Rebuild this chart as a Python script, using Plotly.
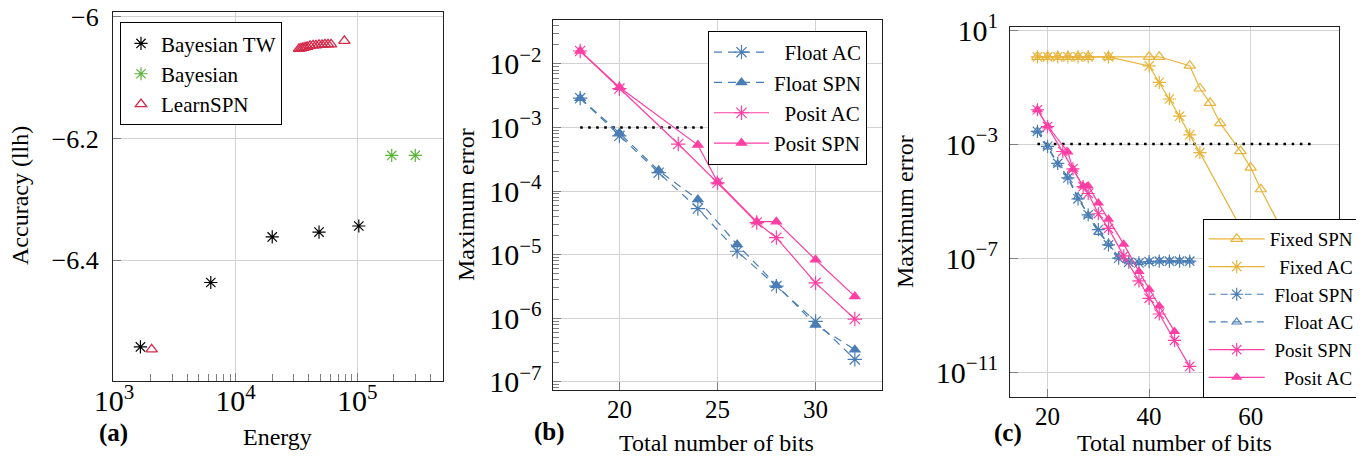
import plotly.graph_objects as go
from plotly.subplots import make_subplots

# ---------------- data ----------------
# Panel (a)
tw_energy = [1650, 6250, 20000, 48500, 103000]
tw_llh = [-6.543, -6.437, -6.362, -6.354, -6.344]
bay_energy = [192000, 300000]
bay_llh = [-6.228, -6.228]
lspn_energy = [2040, 33200, 34500, 35800, 37200, 38700, 40900, 43300, 45800,
               48500, 51400, 54300, 57500, 60900, 78400]
lspn_llh = [-6.547, -6.0527, -6.0519, -6.0510, -6.0502, -6.0494, -6.0477, -6.0469,
            -6.0469, -6.0461, -6.0461, -6.0453, -6.0453, -6.0453, -6.0395]

# Panel (b)
b_float_bits = [18, 20, 22, 24, 26, 28, 30, 32]
b_float_ac = [2.9e-3, 7.4e-4, 1.95e-4, 5.3e-5, 1.13e-5, 3.2e-6, 8.9e-7, 2.25e-7]
b_float_spn = [2.9e-3, 8.2e-4, 2.1e-4, 7.4e-5, 1.44e-5, 3.3e-6, 7.8e-7, 3.2e-7]
b_posit_ac_bits = [18, 20, 23, 25, 27, 28, 30, 32]
b_posit_ac = [1.6e-2, 4.1e-3, 5.5e-4, 1.35e-4, 3.2e-5, 1.85e-5, 3.6e-6, 9.7e-7]
b_posit_spn_bits = [18, 20, 24, 25, 27, 28, 30, 32]
b_posit_spn = [1.6e-2, 4.3e-3, 5.3e-4, 1.4e-4, 3.3e-5, 3.3e-5, 8.3e-6, 2.2e-6]
b_thr_bits = [18, 32]
b_thr = [1e-3, 1e-3]

# Panel (c)
c_fixed_spn_bits = [18, 20, 22, 24, 26, 28, 32, 40, 42, 48, 50, 52, 54, 58, 60, 62, 72]
c_fixed_spn = [1.15, 1.15, 1.15, 1.15, 1.15, 1.15, 1.15, 1.15, 1.15, 0.56, 0.089,
               0.028, 5.4e-3, 5.7e-4, 1.5e-4, 2.6e-5, 1.0e-8]
c_fixed_ac_bits = [18, 20, 22, 24, 26, 28, 32, 40, 42, 44, 46, 48, 50, 64]
c_fixed_ac = [1.15, 1.15, 1.15, 1.15, 1.15, 1.15, 1.15, 0.55, 0.146, 0.038, 9.5e-3,
              2.1e-3, 5.0e-4, 1.3e-8]
c_float_bits = [18, 20, 22, 24, 26, 28, 30, 32, 34, 36, 38, 40, 42, 44, 46, 48]
c_float_spn = [2.8e-3, 8.3e-4, 2.1e-4, 6.5e-5, 1.2e-5, 3.3e-6, 1.0e-6, 2.9e-7,
               1.0e-7, 7.2e-8, 6.8e-8, 7.6e-8, 7.8e-8, 7.8e-8, 7.8e-8, 7.8e-8]
c_float_ac = [2.9e-3, 8.0e-4, 2.0e-4, 7.0e-5, 1.4e-5, 3.2e-6, 8.0e-7, 3.3e-7,
              1.1e-7, 7.5e-8, 7.0e-8, 7.6e-8, 8.0e-8, 8.0e-8, 8.0e-8, 8.0e-8]
c_posit_spn_bits = [18, 20, 23, 25, 27, 28, 30, 32, 35, 38, 40, 42, 45, 48]
c_posit_spn = [1.6e-2, 4.1e-3, 5.5e-4, 1.35e-4, 3.2e-5, 1.85e-5, 3.6e-6, 1.1e-6,
               1.2e-7, 1.6e-8, 3.9e-9, 1.1e-9, 1.3e-10, 1.6e-11]
c_posit_ac_bits = [18, 20, 24, 25, 27, 28, 30, 32, 35, 38, 40, 42, 45]
c_posit_ac = [1.6e-2, 4.3e-3, 5.3e-4, 1.3e-4, 3.4e-5, 3.4e-5, 8.5e-6, 2.3e-6,
              3.1e-7, 3.4e-8, 8.1e-9, 2.1e-9, 2.7e-10]
c_thr_bits = [18, 72]
c_thr = [1e-3, 1e-3]

# tick labels
a_xticks = [1e3, 1e4, 1e5]
a_xtext = ["10<sup>3</sup>", "10<sup>4</sup>", "10<sup>5</sup>"]
a_yticks = [-6.0, -6.2, -6.4]
a_ytext = ["\u22126", "\u22126.2", "\u22126.4"]
b_xticks = [20, 25, 30]
b_yticks = [1e-7, 1e-6, 1e-5, 1e-4, 1e-3, 1e-2]
b_ytext = ["10<sup>\u22127</sup>", "10<sup>\u22126</sup>", "10<sup>\u22125</sup>",
           "10<sup>\u22124</sup>", "10<sup>\u22123</sup>", "10<sup>\u22122</sup>"]
c_xticks = [20, 40, 60]
c_yticks = [1e1, 1e-3, 1e-7, 1e-11]
c_ytext = ["10<sup>1</sup>", "10<sup>\u22123</sup>", "10<sup>\u22127</sup>", "10<sup>\u221211</sup>"]

# ---------------- style ----------------
FONT = "Liberation Serif"
BLUE = "#4A7DB5"
PINK = "#FF3FA3"
GOLD = "#E8B43A"
GREEN = "#5BB53A"
RED = "#D52A4A"
GRID = "#D2D2D2"
TICK = "#808080"
NB = "\u00a0"
OFF = 8              # page body margin of the browser
W, H = 1364 - OFF, 456 - OFF

fig = make_subplots(rows=1, cols=3)

# ---- panel (a)
fig.add_trace(go.Scatter(x=tw_energy, y=tw_llh, mode="markers", name="Bayesian TW",
                         marker=dict(symbol="asterisk-open", size=11, color="black",
                                     line=dict(color="black", width=1.2)),
                         legend="legend"), row=1, col=1)
fig.add_trace(go.Scatter(x=bay_energy, y=bay_llh, mode="markers", name="Bayesian",
                         marker=dict(symbol="asterisk-open", size=11, color=GREEN,
                                     line=dict(color=GREEN, width=1.2)),
                         legend="legend"), row=1, col=1)
fig.add_trace(go.Scatter(x=lspn_energy, y=lspn_llh, mode="markers", name="LearnSPN",
                         marker=dict(symbol="triangle-up-open", size=10, color=RED,
                                     line=dict(color=RED, width=1.3)),
                         legend="legend"), row=1, col=1)

# ---- panel (b)
fig.add_trace(go.Scatter(x=b_thr_bits, y=b_thr, mode="lines", showlegend=False,
                         line=dict(color="black", width=2.6, dash="2.6px,5.4px")), row=1, col=2)
fig.add_trace(go.Scatter(x=b_float_bits, y=b_float_ac, mode="lines+markers",
                         name=NB * 2 + "Float AC",
                         line=dict(color=BLUE, width=1.2, dash="8px,6px"),
                         marker=dict(symbol="asterisk-open", size=12, color=BLUE,
                                     line=dict(color=BLUE, width=1.2)),
                         legend="legend2"), row=1, col=2)
fig.add_trace(go.Scatter(x=b_float_bits, y=b_float_spn, mode="lines+markers",
                         name="Float SPN",
                         line=dict(color=BLUE, width=1.2, dash="8px,6px"),
                         marker=dict(symbol="triangle-up", size=11, color=BLUE),
                         legend="legend2"), row=1, col=2)
fig.add_trace(go.Scatter(x=b_posit_ac_bits, y=b_posit_ac, mode="lines+markers",
                         name=NB * 2 + "Posit AC",
                         line=dict(color=PINK, width=1.2),
                         marker=dict(symbol="asterisk-open", size=12, color=PINK,
                                     line=dict(color=PINK, width=1.2)),
                         legend="legend2"), row=1, col=2)
fig.add_trace(go.Scatter(x=b_posit_spn_bits, y=b_posit_spn, mode="lines+markers",
                         name="Posit SPN",
                         line=dict(color=PINK, width=1.2),
                         marker=dict(symbol="triangle-up", size=11, color=PINK),
                         legend="legend2"), row=1, col=2)

# ---- panel (c)
fig.add_trace(go.Scatter(x=c_thr_bits, y=c_thr, mode="lines", showlegend=False,
                         line=dict(color="black", width=2.6, dash="2.6px,5.6px")), row=1, col=3)
fig.add_trace(go.Scatter(x=c_fixed_spn_bits, y=c_fixed_spn, mode="lines+markers",
                         name="Fixed SPN",
                         line=dict(color=GOLD, width=1.2),
                         marker=dict(symbol="triangle-up-open", size=10, color=GOLD,
                                     line=dict(color=GOLD, width=1.2)),
                         legend="legend3"), row=1, col=3)
fig.add_trace(go.Scatter(x=c_fixed_ac_bits, y=c_fixed_ac, mode="lines+markers",
                         name=NB * 2 + "Fixed AC",
                         line=dict(color=GOLD, width=1.2),
                         marker=dict(symbol="asterisk-open", size=11, color=GOLD,
                                     line=dict(color=GOLD, width=1.2)),
                         legend="legend3"), row=1, col=3)
fig.add_trace(go.Scatter(x=c_float_bits, y=c_float_spn, mode="lines+markers",
                         name=NB + "Float SPN",
                         line=dict(color=BLUE, width=1.2, dash="7px,5px"),
                         marker=dict(symbol="asterisk-open", size=11, color=BLUE,
                                     line=dict(color=BLUE, width=1.2)),
                         legend="legend3"), row=1, col=3)
fig.add_trace(go.Scatter(x=c_float_bits, y=c_float_ac, mode="lines+markers",
                         name=NB * 3 + "Float AC",
                         line=dict(color=BLUE, width=1.2, dash="7px,5px"),
                         marker=dict(symbol="triangle-up-open", size=8, color=BLUE,
                                     line=dict(color=BLUE, width=1.1)),
                         legend="legend3"), row=1, col=3)
fig.add_trace(go.Scatter(x=c_posit_spn_bits, y=c_posit_spn, mode="lines+markers",
                         name=NB + "Posit SPN",
                         line=dict(color=PINK, width=1.2),
                         marker=dict(symbol="asterisk-open", size=11, color=PINK,
                                     line=dict(color=PINK, width=1.2)),
                         legend="legend3"), row=1, col=3)
fig.add_trace(go.Scatter(x=c_posit_ac_bits, y=c_posit_ac, mode="lines+markers",
                         name=NB * 3 + "Posit AC",
                         line=dict(color=PINK, width=1.2),
                         marker=dict(symbol="triangle-up", size=10, color=PINK),
                         legend="legend3"), row=1, col=3)


def px_x(p):
    return (p - OFF) / W


def px_y(p):
    return 1 - (p - OFF) / H


common = dict(showline=True, linecolor="#222", linewidth=1.2, mirror=True,
              showgrid=True, gridcolor=GRID, gridwidth=1.3, zeroline=False,
              ticks="inside", ticklen=8, tickcolor=TICK, tickwidth=1,
              automargin=False, ticklabeloverflow="allow")

a_minor = [k * 10 ** e for e in (3, 4, 5) for k in range(2, 10) if k * 10 ** e <= 5.0e5]
b_minor = [k * 10.0 ** e for e in range(-8, -1) for k in range(2, 10)]

fig.update_xaxes(type="log", range=[2.992, 5.705], domain=[px_x(113), px_x(443)],
                 tickmode="array", tickvals=a_xticks, ticktext=a_xtext,
                 tickfont=dict(family=FONT, size=30, color="black"),
                 ticklabelstandoff=-7,
                 minor=dict(tickmode="array", tickvals=a_minor, ticks="inside",
                            ticklen=7, tickcolor=TICK, tickwidth=1, showgrid=False),
                 **common, row=1, col=1)
fig.update_yaxes(range=[-6.599, -5.992], domain=[px_y(381), px_y(12)],
                 tickmode="array", tickvals=a_yticks, ticktext=a_ytext,
                 tickfont=dict(family=FONT, size=26, color="black"),
                 ticklabelstandoff=8,
                 **common, row=1, col=1)

fig.update_xaxes(range=[16.6, 33.4], domain=[px_x(552.7), px_x(882.3)],
                 tickmode="array", tickvals=b_xticks,
                 tickfont=dict(family=FONT, size=25, color="black"),
                 ticklabelstandoff=-3,
                 **common, row=1, col=2)
fig.update_yaxes(type="log", range=[-7.13, -1.308], domain=[px_y(390), px_y(20)],
                 tickmode="array", tickvals=b_yticks, ticktext=b_ytext,
                 tickfont=dict(family=FONT, size=30, color="black"),
                 ticklabelstandoff=4,
                 minor=dict(tickmode="array", tickvals=b_minor, ticks="inside",
                            ticklen=6, tickcolor=TICK, tickwidth=1, showgrid=False),
                 **common, row=1, col=2)

fig.update_xaxes(range=[12.6, 77.4], domain=[px_x(1010), px_x(1339)],
                 tickmode="array", tickvals=c_xticks,
                 tickfont=dict(family=FONT, size=25, color="black"),
                 ticklabelstandoff=-3,
                 **common, row=1, col=3)
fig.update_yaxes(type="log", range=[-11.88, 1.095], domain=[px_y(397.3), px_y(27.3)],
                 tickmode="array", tickvals=c_yticks, ticktext=c_ytext,
                 tickfont=dict(family=FONT, size=30, color="black"),
                 ticklabelstandoff=5,
                 **common, row=1, col=3)

legend_common = dict(bgcolor="white", bordercolor="black", borderwidth=1,
                     xanchor="left", yanchor="top", tracegroupgap=0)

fig.update_layout(
    width=W, height=H,
    margin=dict(l=0, r=0, t=0, b=0, autoexpand=False),
    paper_bgcolor="white", plot_bgcolor="white",
    font=dict(family=FONT, color="black"),
    legend=dict(x=px_x(120), y=px_y(22.3), font=dict(family=FONT, size=21),
                itemwidth=30, **legend_common),
    legend2=dict(x=px_x(708), y=px_y(31), font=dict(family=FONT, size=21),
                 itemwidth=55, **legend_common),
    legend3=dict(x=px_x(1202.7), y=px_y(219), font=dict(family=FONT, size=19),
                 itemwidth=56, **legend_common),
)

annots = [
    dict(text="Energy", x=px_x(277.7), y=px_y(436.7), size=24, angle=0),
    dict(text="Accuracy (llh)", x=px_x(20), y=px_y(196), size=24, angle=-90),
    dict(text="Total number of bits", x=px_x(716.7), y=px_y(443.3), size=24, angle=0),
    dict(text="Maximum error", x=px_x(466), y=px_y(205), size=24, angle=-90),
    dict(text="Total number of bits", x=px_x(1174), y=px_y(443.3), size=24, angle=0),
    dict(text="Maximum error", x=px_x(905), y=px_y(212), size=24, angle=-90),
    dict(text="<b>(a)</b>", x=px_x(113.5), y=px_y(432.7), size=25, angle=0),
    dict(text="<b>(b)</b>", x=px_x(549), y=px_y(431.7), size=25, angle=0),
    dict(text="<b>(c)</b>", x=px_x(1007.5), y=px_y(433.3), size=25, angle=0),
]
for a in annots:
    fig.add_annotation(text=a["text"], x=a["x"], y=a["y"], xref="paper", yref="paper",
                       xanchor="center", yanchor="middle", showarrow=False,
                       textangle=a["angle"], font=dict(family=FONT, size=a["size"], color="black"))

fig.write_html("out.html")
